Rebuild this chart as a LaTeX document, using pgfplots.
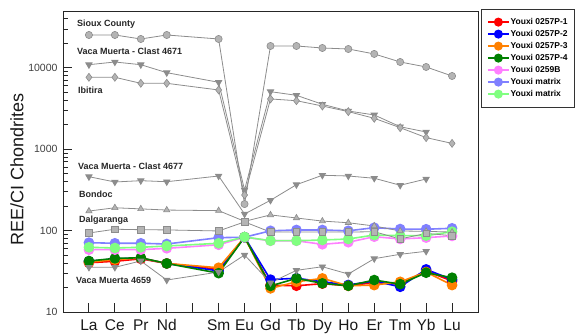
\documentclass[border=0pt]{standalone}
\usepackage{fontspec}
\setmainfont{Liberation Sans}
\usepackage{pgfplots}
\pgfplotsset{compat=1.18}

\definecolor{gline}{HTML}{8C8C8C}
\definecolor{gfill}{HTML}{B4B4B4}
\definecolor{cred}{HTML}{FF0000}
\definecolor{cblue}{HTML}{0000FF}
\definecolor{corange}{HTML}{FF8000}
\definecolor{cgreen}{HTML}{008000}
\definecolor{cpink}{HTML}{FF80FF}
\definecolor{cmblue}{HTML}{8080FF}
\definecolor{cmgreen}{HTML}{80FF80}

\pgfplotsset{
  gser/.style={color=gline, line width=0.8pt, mark size=3.6pt,
    mark options={fill=gfill, draw=gline, line width=0.6pt, solid}, forget plot},
  cser/.style={color=#1, line width=1.6pt, mark=*, mark size=4.5pt,
    mark options={fill=#1, draw=#1, solid}},
}

\begin{document}
\begin{tikzpicture}
\path[use as bounding box] (0,0) rectangle (582pt,335pt);
\begin{axis}[
  at={(63pt,23pt)}, anchor=south west,
  width=415pt, height=301pt, scale only axis,
  xmin=0, xmax=16, ymin=10, ymax=50000, ymode=log,
  xtick={1,2,3,4,5,6,7,8,9,10,11,12,13,14,15},
  xticklabels={La,Ce,Pr,Nd,,Sm,Eu,Gd,Tb,Dy,Ho,Er,Tm,Yb,Lu},
  ytick={10,100,1000,10000}, yticklabels={10,100,1000,10000},
  minor ytick={20,30,40,50,60,70,80,90,200,300,400,500,600,700,800,900,2000,3000,4000,5000,6000,7000,8000,9000,20000,30000,40000},
  xtick pos=bottom, ytick pos=left,
  tick align=inside,
  major tick length=9pt, minor tick length=5pt,
  axis line style={line width=0.9pt, black!85},
  tick style={line width=0.9pt, black!85},
  /pgf/number format/assume math mode=true,
  x tick label style={font=\fontsize{15.5}{15.5}\selectfont, yshift=-4pt, text=black!90},
  y tick label style={font=\fontsize{10.5}{10.5}\selectfont, text=black!75, xshift=-2pt},
  ylabel={REE/CI Chondrites},
  ylabel style={at={(axis description cs:-0.111,0.472)}, anchor=center, font=\fontsize{18}{18}\selectfont, text=black!90},
  legend cell align=left,
  legend style={at={(1.0072,1.0066)}, anchor=north west, draw=black!80,
    font=\bfseries\fontsize{8.5}{9}\selectfont, inner xsep=6pt, inner ysep=8pt,
    row sep=2.2pt, nodes={inner sep=1pt, text height=6.2pt, text depth=1.6pt}},
  legend image code/.code={\draw[mark repeat=2, mark phase=2, mark size=3.8pt, line width=1.4pt]
    plot coordinates {(0pt,0pt) (10.5pt,0pt) (21pt,0pt)};},
]
% ---- Youxi samples (legend) ----
\addplot[cser=cred] coordinates {(1,40.3) (2,42) (3,45) (4,39.5) (6,33.5) (7,83) (8,21.4) (9,21) (10,22.3) (11,21) (12,23) (13,22) (14,32) (15,24)};
\addlegendentry{Youxi 0257P-1}
\addplot[cser=cblue] coordinates {(1,42) (2,45) (3,46) (4,39.5) (6,32) (7,83) (8,25) (9,26) (10,23.5) (11,21.5) (12,24) (13,20.4) (14,33.4) (15,25)};
\addlegendentry{Youxi 0257P-2}
\addplot[cser=corange] coordinates {(1,41) (2,44) (3,46) (4,39.5) (6,35) (7,83) (8,19.5) (9,23.5) (10,25.9) (11,21) (12,21.4) (13,23.5) (14,31) (15,21.4)};
\addlegendentry{Youxi 0257P-3}
\addplot[cser=cgreen] coordinates {(1,42.3) (2,45.6) (3,46.4) (4,39.5) (6,30) (7,83) (8,20.9) (9,25.9) (10,22.5) (11,21) (12,24.7) (13,22) (14,30.4) (15,26.4)};
\addlegendentry{Youxi 0257P-4}
\addplot[cser=cpink] coordinates {(1,58.3) (2,58.3) (3,58.3) (4,60.6) (6,67) (7,83) (8,75) (9,75) (10,67.9) (11,72) (12,84.2) (13,79) (14,82) (15,86)};
\addlegendentry{Youxi 0259B}
\addplot[cser=cmblue] coordinates {(1,71.1) (2,69.9) (3,69.9) (4,68.5) (6,81.9) (7,83) (8,99.5) (9,101.9) (10,101.9) (11,99.5) (12,108.6) (13,104.6) (14,104) (15,106.8)};
\addlegendentry{Youxi matrix}
\addplot[cser=cmgreen] coordinates {(1,62.4) (2,61.2) (3,62.4) (4,64.7) (6,69.9) (7,83.6) (8,75.2) (9,75.2) (10,76.7) (11,78.9) (12,88.3) (13,86.7) (14,86.7) (15,97)};
\addlegendentry{Youxi matrix}
% ---- reference meteorites (grey) ----
% Sioux County
\addplot[gser, mark=*] coordinates {(1,25360) (2,25360) (3,22650) (4,25360) (6,22650) (7,212) (8,18580) (9,18580) (10,17550) (11,17060) (12,14830) (13,11810) (14,10260) (15,7950)};
% Vaca Muerta - Clast 4671
\addplot[gser, mark=triangle*, mark options={rotate=180}] coordinates {(1,10940) (2,11810) (3,10940) (4,8730) (6,6650) (7,316) (8,5100) (9,4600) (10,3570) (11,2950) (12,2640) (13,1890) (14,1630)};
% Ibitira
\addplot[gser, mark=diamond*, mark size=4pt] coordinates {(1,7660) (2,7660) (3,6460) (4,6460) (6,5350) (7,274) (8,4150) (9,3950) (10,3400) (11,2900) (12,2400) (13,1840) (14,1390) (15,1180)};
% Vaca Muerta - Clast 4677
\addplot[gser, mark=triangle*, mark options={rotate=180}] coordinates {(1,460) (2,396) (3,411) (4,399) (6,469) (7,160) (8,236) (9,367) (10,479) (11,469) (12,440) (13,361) (14,431)};
% Bondoc
\addplot[gser, mark=triangle*] coordinates {(1,174) (2,191) (3,185) (4,179) (6,176) (7,130) (8,156) (9,143) (10,131) (11,125) (12,114) (13,99) (14,98) (15,96)};
% Dalgaranga
\addplot[gser, mark=square*, mark size=3.3pt] coordinates {(1,93.5) (2,104) (3,102.6) (4,102) (6,99) (7,128) (8,96) (9,96) (10,96) (11,96) (12,97) (13,79) (14,92.5) (15,86.7)};
% Vaca Muerta 4659
\addplot[gser, mark=triangle*, mark options={rotate=180}] coordinates {(1,35.4) (2,35.4) (3,42.4) (4,24.7) (6,31) (7,50.2) (8,22.9) (9,32.5) (10,36) (11,29.3) (12,45.2) (13,51.2) (14,55.7)};
\end{axis}
\begin{scope}[every node/.style={anchor=base west, font=\bfseries\fontsize{9}{9}\selectfont, text=black!85, inner sep=0pt}]
\node at (77pt,308pt) {Sioux County};
\node at (77pt,280pt) {Vaca Muerta - Clast 4671};
\node at (78pt,241pt) {Ibitira};
\node at (78pt,165.7pt) {Vaca Muerta - Clast 4677};
\node at (79pt,137.3pt) {Bondoc};
\node at (79pt,112.3pt) {Dalgaranga};
\node at (76pt,51.7pt) {Vaca Muerta 4659};
\end{scope}
\end{tikzpicture}
\end{document}
